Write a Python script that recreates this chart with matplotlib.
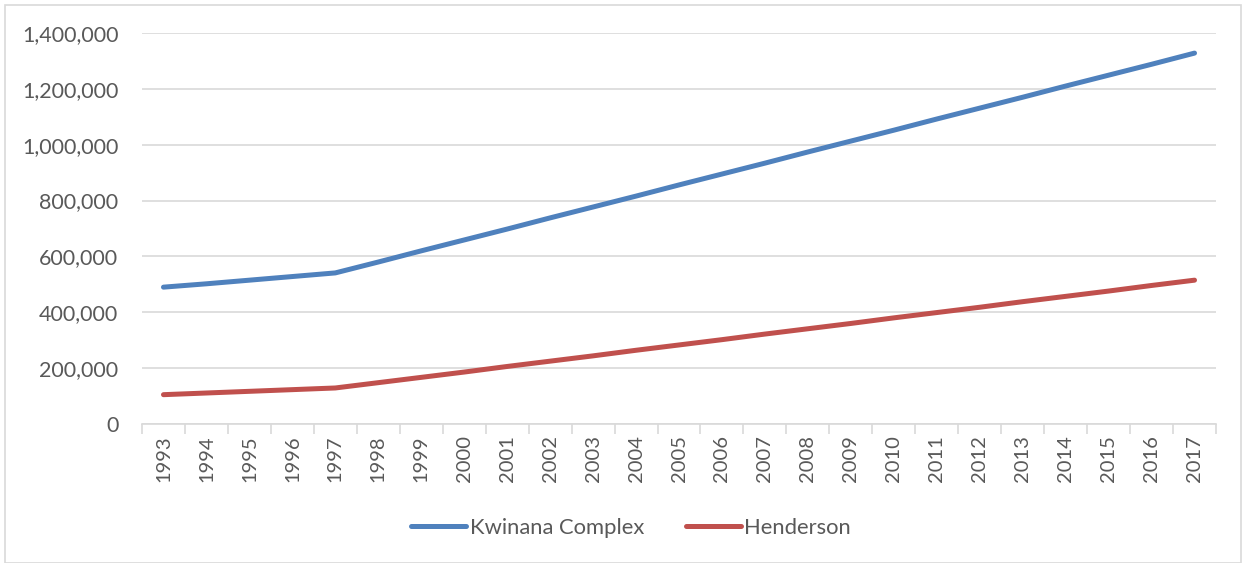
import matplotlib
matplotlib.use('Agg')
import matplotlib.pyplot as plt
from matplotlib.ticker import FuncFormatter, FixedLocator
from matplotlib.patches import Rectangle

years = [str(y) for y in range(1993, 2018)]

kwinana = [490000, 502000, 515000, 528000, 541000, 580000, 620000, 659000,
           698000, 738000, 777000, 816000, 856000, 895000, 934000, 974000,
           1013000, 1052000, 1092000, 1131000, 1170000, 1210000, 1249000,
           1288000, 1328000]

henderson = [105000, 111000, 117000, 123000, 129000, 148000, 167000, 186000,
             206000, 225000, 244000, 264000, 283000, 302000, 322000, 341000,
             360000, 380000, 399000, 418000, 438000, 457000, 476000, 496000,
             515000]

series_names = ['Kwinana Complex', 'Henderson']

plt.rcParams['font.family'] = ['Lato', 'DejaVu Sans']
TEXT = '#595959'
GRID = '#D9D9D9'

fig = plt.figure(figsize=(12.42, 5.63), dpi=100)
W, H = 1242, 563
ax = fig.add_axes([142 / W, 1 - 424 / H, (1216 - 142) / W, (424 - 33) / H])

x = list(range(len(years)))
ax.plot(x, kwinana, color='#4F81BD', lw=3.6, solid_capstyle='round', label=series_names[0])
ax.plot(x, henderson, color='#C0504D', lw=3.6, solid_capstyle='round', label=series_names[1])

ax.set_xlim(-0.5, len(years) - 0.5)
ax.set_ylim(0, 1400000)
ax.set_yticks(range(0, 1400001, 200000))
ax.yaxis.set_major_formatter(FuncFormatter(lambda v, p: f'{int(v):,}'))
ax.grid(axis='y', color=GRID, lw=1.2)
ax.set_axisbelow(True)

# category labels at centres, tick marks between categories
ax.set_xticks(x)
ax.set_xticklabels(years, rotation=90)
ax.xaxis.set_minor_locator(FixedLocator([i - 0.5 for i in range(len(years) + 1)]))
ax.tick_params(axis='x', which='major', length=0, pad=8, labelsize=14.5, labelcolor=TEXT)
ax.tick_params(axis='x', which='minor', length=7, width=1.2, color=GRID)
ax.tick_params(axis='y', length=0, pad=17, labelsize=15.5, labelcolor=TEXT)

for s in ['top', 'right', 'left']:
    ax.spines[s].set_visible(False)
ax.spines['bottom'].set_color(GRID)
ax.spines['bottom'].set_linewidth(1.2)

leg = fig.legend(loc='center', bbox_to_anchor=(0.5 + 10 / W, 1 - 528 / H), ncol=2, frameon=False,
                 fontsize=15.8, handlelength=2.5, handletextpad=0.15, columnspacing=1.9)
for t in leg.get_texts():
    t.set_color(TEXT)

fig.patches.append(Rectangle((5 / W, 0), 1 - 6 / W, 1 - 5 / H, transform=fig.transFigure,
                             fill=False, edgecolor=GRID, lw=1.2))

fig.savefig('out.png', dpi=100)
